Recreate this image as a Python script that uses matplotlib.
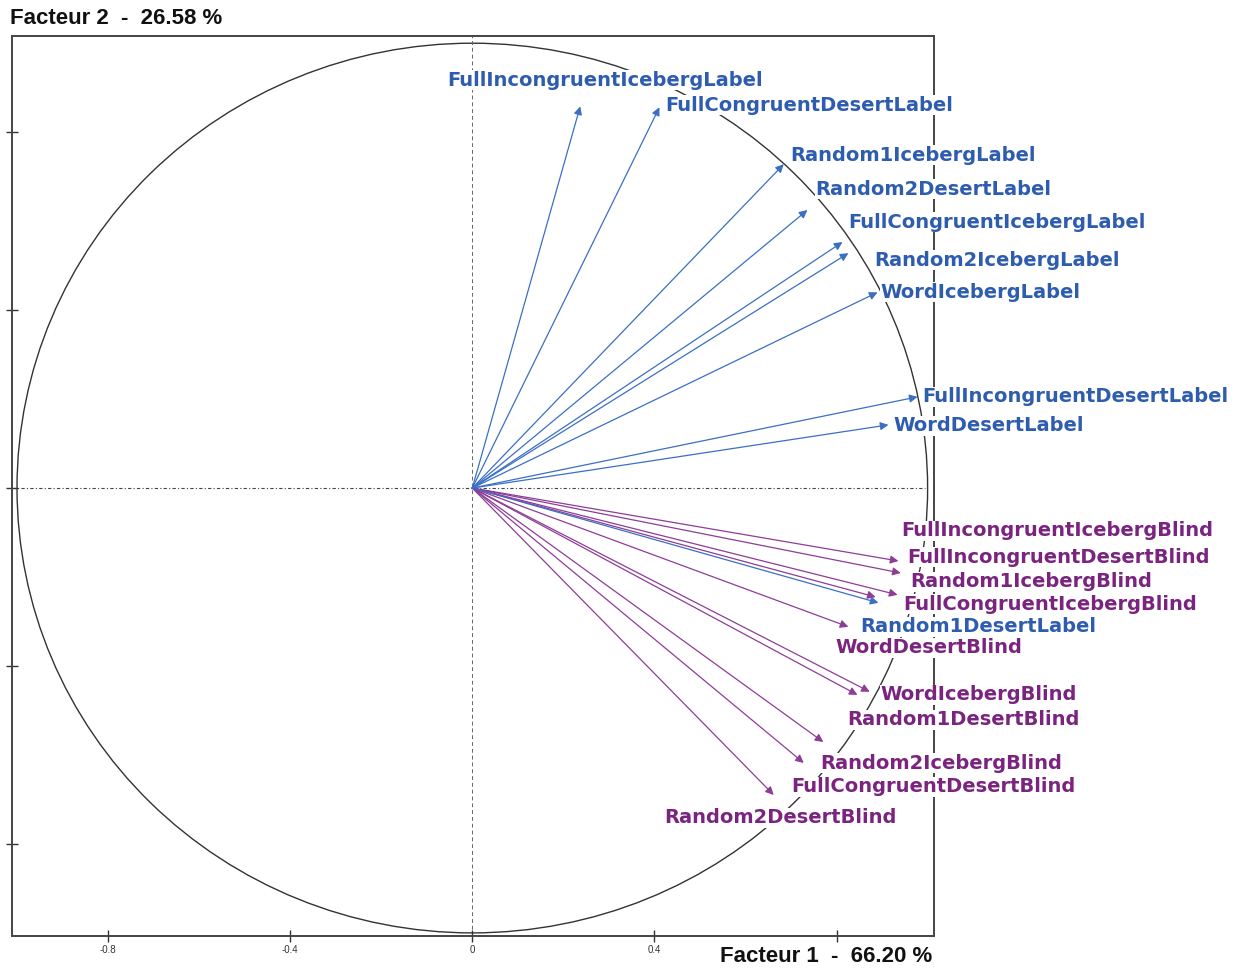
import numpy as np
import matplotlib.pyplot as plt
from matplotlib.patches import Circle

# variable coordinates on factor 1 / factor 2
label_names = ["FullIncongruentIcebergLabel", "FullCongruentDesertLabel", "Random1IcebergLabel",
               "Random2DesertLabel", "FullCongruentIcebergLabel", "Random2IcebergLabel",
               "WordIcebergLabel", "FullIncongruentDesertLabel", "WordDesertLabel",
               "Random1DesertLabel"]
label_f1 = [0.237, 0.411, 0.684, 0.736, 0.813, 0.826, 0.890, 0.978, 0.914, 0.892]
label_f2 = [0.858, 0.856, 0.728, 0.625, 0.553, 0.528, 0.440, 0.205, 0.142, -0.258]

blind_names = ["FullIncongruentIcebergBlind", "FullIncongruentDesertBlind", "Random1IcebergBlind",
               "FullCongruentIcebergBlind", "WordDesertBlind", "WordIcebergBlind",
               "Random1DesertBlind", "Random2IcebergBlind", "FullCongruentDesertBlind",
               "Random2DesertBlind"]
blind_f1 = [0.936, 0.941, 0.934, 0.886, 0.826, 0.873, 0.846, 0.771, 0.728, 0.662]
blind_f2 = [-0.164, -0.191, -0.240, -0.245, -0.312, -0.458, -0.465, -0.571, -0.618, -0.690]

xticks = [-0.8, -0.4, 0, 0.4, 0.8]
xtick_labels = ["-0.8", "-0.4", "0", "0.4", ""]
yticks = [-0.8, -0.4, 0, 0.4, 0.8]

# label offsets from arrow tip (pixels, right / up)
label_off = [(-133, 26), (6, 2), (7, 9), (8, 21), (6, 20), (26, -7), (3, 0), (5, 0), (5, -1), (-18, -24)]
blind_off = [(3, 30), (7, 16), (13, 13), (28, -7), (-13, -21), (11, -3), (-10, -25), (-3, -21), (-13, -24), (-109, -23)]

plt.rcParams['font.family'] = ['Liberation Sans', 'DejaVu Sans']

fig = plt.figure(figsize=(12.39, 9.69), dpi=100)
ax = fig.add_axes([0.00969, 0.03406, 0.7445, 0.9287])
ax.set_xlim(-1.011, 1.015)
ax.set_ylim(-1.007, 1.016)

ax.add_patch(Circle((0, 0), 1, fill=False, ec="#333333", lw=1.0, zorder=1))
ax.plot([-1.011, 0.995], [0, 0], color="#444444", lw=0.8, ls=(0, (3, 2, 1, 2)), zorder=1)
ax.axvline(0, color="#666666", lw=0.7, ls=(0, (4, 3)), zorder=1)

def draw(names, f1, f2, offs, line_c, text_c):
    for n, x, y, (dx, dy) in zip(names, f1, f2, offs):
        ax.annotate("", xy=(x, y), xytext=(0, 0),
                    arrowprops=dict(arrowstyle="-|>", color=line_c, lw=0.9,
                                    mutation_scale=12, shrinkA=0, shrinkB=0), zorder=2)
        ax.annotate(n, xy=(x, y), xytext=(dx * 0.72, dy * 0.72), textcoords="offset points",
                    ha="left", va="center", fontsize=14, fontweight="bold", color=text_c,
                    family="DejaVu Sans",
                    bbox=dict(facecolor="white", edgecolor="none", pad=0.3), zorder=5,
                    annotation_clip=False)

draw(blind_names, blind_f1, blind_f2, blind_off, "#8e3d96", "#7a2480")
draw(label_names, label_f1, label_f2, label_off, "#3b6fc4", "#2e5caf")

ax.set_xticks(xticks)
ax.set_xticklabels(xtick_labels, fontsize=7, color="#333333")
ax.set_yticks(yticks)
ax.set_yticklabels([])
ax.tick_params(direction="inout", length=9, width=1.0, color="#333333", pad=2)
for s in ax.spines.values():
    s.set_color("#444444")
    s.set_linewidth(1.4)
    s.set_zorder(3)

fig.text(10 / 1239, 1 - 18 / 969, "Facteur 2  -  26.58 %", fontsize=16, fontweight="bold",
         ha="left", va="center", color="#111111")
fig.text(932 / 1239, 1 - 956 / 969, "Facteur 1  -  66.20 %", fontsize=16, fontweight="bold",
         ha="right", va="center", color="#111111")

fig.savefig("out.png", dpi=100)
